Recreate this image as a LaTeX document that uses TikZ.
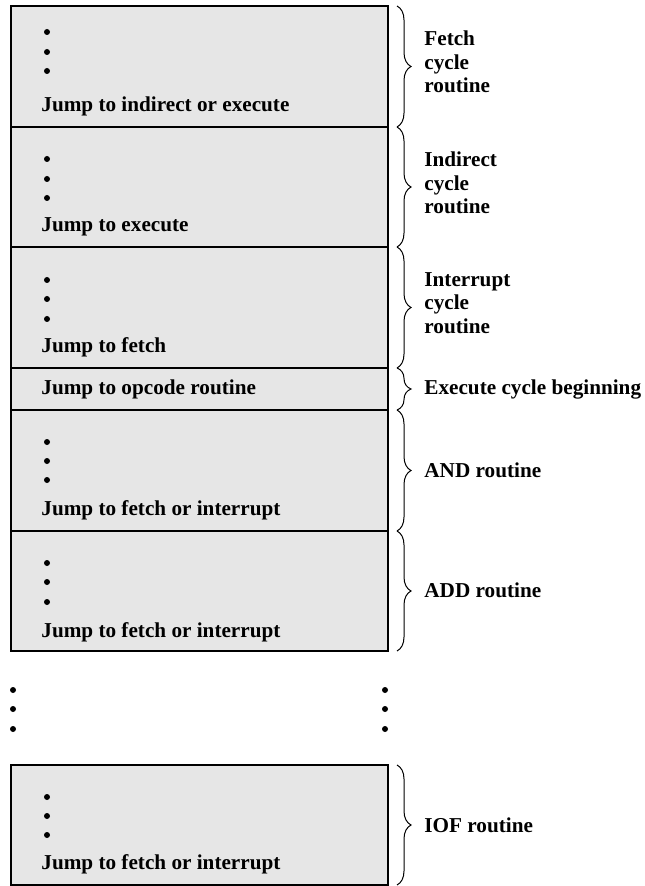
\documentclass[tikz,border=0pt]{standalone}
\usepackage{fontspec}
\setmainfont{Liberation Serif}
\usetikzlibrary{decorations.pathreplacing}
\definecolor{cellgray}{HTML}{E6E6E6}
\newcommand{\txtfont}{\bfseries\fontsize{10.6}{11.75}\selectfont}
\begin{document}
\begin{tikzpicture}[x=0.5pt,y=-0.5pt,
  cell/.style={draw=black, line width=0.8pt, fill=cellgray, minimum width=188.5pt, inner sep=0pt, outer sep=0pt},
  dotm/.style={circle, fill=black, inner sep=0pt, minimum size=3pt},
  jtext/.style={anchor=base west, inner sep=0pt, font=\txtfont},
  lbl/.style={anchor=west, align=left, inner sep=0pt, font=\txtfont},
  brc/.style={decorate, decoration={brace, amplitude=7pt}, line width=0.5pt}]
\useasboundingbox (0,0) rectangle (644,886);

% boxes
\node[cell, minimum height=60.5pt] (fetch) at (199.5,66.5) {};
\node[cell, minimum height=60pt]   (indir) at (199.5,187) {};
\node[cell, minimum height=60.5pt] (intr)  at (199.5,307.5) {};
\node[cell, minimum height=21pt]   (exec)  at (199.5,389) {};
\node[cell, minimum height=60.5pt] (andr)  at (199.5,470.5) {};
\node[cell, minimum height=60pt]   (addr)  at (199.5,591) {};
\node[cell, minimum height=60pt]   (iof)   at (199.5,825) {};

% dots inside boxes
\node[dotm] (f1) at (47,32) {};  \node[dotm] (f2) at (47,52) {};  \node[dotm] (f3) at (47,71) {};
\node[dotm] (i1) at (47,159) {}; \node[dotm] (i2) at (47,179) {}; \node[dotm] (i3) at (47,198) {};
\node[dotm] (n1) at (47,280) {}; \node[dotm] (n2) at (47,299) {}; \node[dotm] (n3) at (47,319) {};
\node[dotm] (a1) at (47,442) {}; \node[dotm] (a2) at (47,461) {}; \node[dotm] (a3) at (47,480) {};
\node[dotm] (d1) at (47,563) {}; \node[dotm] (d2) at (47,582) {}; \node[dotm] (d3) at (47,602) {};
\node[dotm] (o1) at (47,797) {}; \node[dotm] (o2) at (47,816) {}; \node[dotm] (o3) at (47,835) {};

% texts inside boxes
\node[jtext] (tf) at (41,112) {Jump to indirect or execute};
\node[jtext] (ti) at (41,232) {Jump to execute};
\node[jtext] (tn) at (41,353) {Jump to fetch};
\node[jtext] (te) at (41,394) {Jump to opcode routine};
\node[jtext] (ta) at (41,515) {Jump to fetch or interrupt};
\node[jtext] (td) at (41,637) {Jump to fetch or interrupt};
\node[jtext] (to) at (41,869) {Jump to fetch or interrupt};

% continuation dots outside
\node[dotm] (l1) at (13,690) {}; \node[dotm] (l2) at (13,709) {}; \node[dotm] (l3) at (13,729) {};
\node[dotm] (r1) at (385,690) {}; \node[dotm] (r2) at (385,709) {}; \node[dotm] (r3) at (385,729) {};

% braces
\foreach \b in {fetch,indir,intr,exec,andr,addr,iof}
  \draw[brc] ([xshift=4.5pt]\b.north east) -- ([xshift=4.5pt]\b.south east);

% labels
\node[lbl] (lf) at (424,62) {Fetch\\cycle\\routine};
\node[lbl] (li) at (424,183) {Indirect\\cycle\\routine};
\node[lbl] (ln) at (424,303) {Interrupt\\cycle\\routine};
\node[lbl] (le) at (424,389) {Execute cycle beginning};
\node[lbl] (la) at (424,470) {AND routine};
\node[lbl] (ld) at (424,590) {ADD routine};
\node[lbl] (lo) at (424,825) {IOF routine};
\end{tikzpicture}
\end{document}
